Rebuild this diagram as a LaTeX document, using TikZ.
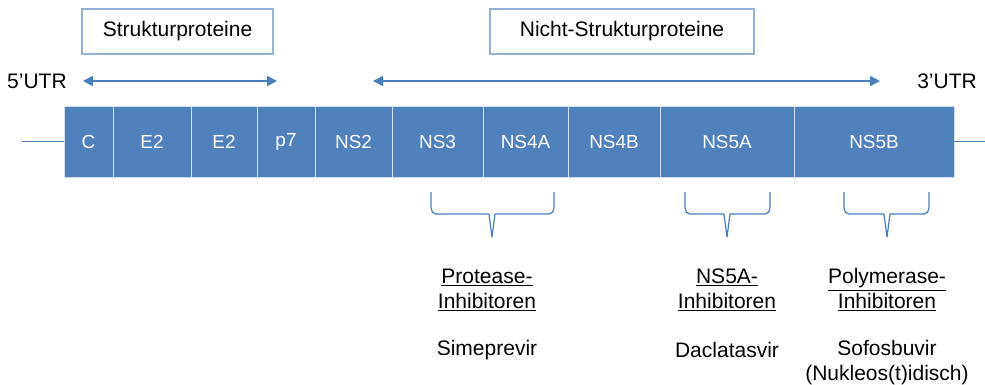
\documentclass[tikz,border=0pt]{standalone}
\usepackage{fontspec}
\setmainfont{Liberation Sans}
\usetikzlibrary{arrows.meta, positioning}
\definecolor{balken}{HTML}{4F81BD}
\definecolor{linie}{HTML}{4A7EBB}
\definecolor{rahmen}{HTML}{95B3D7}

\begin{document}
\begin{tikzpicture}[x=0.75pt, y=-0.75pt, node distance=0pt,
    seg/.style={fill=balken, draw=white!75!balken, line width=0.6pt, outer sep=0pt,
      inner sep=0pt, minimum height=53.25pt, text=white, font=\fontsize{14.2}{16}\selectfont},
    titel/.style={draw=rahmen, line width=0.9pt, minimum height=33.75pt,
      font=\fontsize{15.75}{18.75}\selectfont},
    txt/.style={font=\fontsize{15.75}{18.75}\selectfont, align=center},
    pfeil/.style={draw=linie, line width=1.1pt,
      {Triangle[width=7.5pt,length=7.5pt]}-{Triangle[width=7.5pt,length=7.5pt]}},
    klammer/.style={draw=linie, line width=0.9pt, line join=round}]
    \useasboundingbox (0,0) rectangle (985,385);

    % Genom als Balken
    \node[seg, minimum width=36.75pt, anchor=north west] (c) at (64,106) {C};
    \node[seg, minimum width=58.5pt, right=of c] (e2a) {E2};
    \node[seg, minimum width=49.5pt, right=of e2a] (e2b) {E2};
    \node[seg, minimum width=43.5pt, right=of e2b] (p7) {p7};
    \node[seg, minimum width=57.75pt, right=of p7] (ns2) {NS2};
    \node[seg, minimum width=68.25pt, right=of ns2] (ns3) {NS3};
    \node[seg, minimum width=63.75pt, right=of ns3] (ns4a) {NS4A};
    \node[seg, minimum width=69pt, right=of ns4a] (ns4b) {NS4B};
    \node[seg, minimum width=100.5pt, right=of ns4b] (ns5a) {NS5A};
    \node[seg, minimum width=120pt, right=of ns5a] (ns5b) {NS5B};

    \coordinate (utr5) at (22,141.5);
    \coordinate (utr3) at (985,141.5);
    \draw[linie, line width=0.8pt] (utr5) -- (c.west);
    \draw[linie, line width=0.8pt] (ns5b.east) -- (utr3);

    \node[txt] (l5) at (37,81) {5\textquoteright UTR};
    \node[txt] (l3) at (947,81) {3\textquoteright UTR};

    % Bereiche oben
    \node[titel, minimum width=143.25pt] (struk) at (177.5,31.5) {Strukturproteine};
    \node[titel, minimum width=198pt] (nstruk) at (622,31.5) {Nicht-Strukturproteine};

    \coordinate (sa) at (83,81);
    \coordinate (sb) at (277,81);
    \coordinate (na) at (373,81);
    \coordinate (nb) at (880,81);
    \draw[pfeil] (sa) -- (sb);
    \draw[pfeil] (na) -- (nb);

    % Klammern
    \foreach \l/\m/\r in {431/492/554, 685/727/770, 844/887/929}{
      \draw[klammer] (\l,192) -- (\l,208) to[out=-90,in=180] (\l+5,214) -- (\m-3,214)
        -- (\m,237) -- (\m+3,214) -- (\r-5,214) to[out=0,in=-90] (\r,208) -- (\r,192);
    }

    % Inhibitoren
    \node[txt] (prot) at (487,290) {\underline{Protease-}\\\underline{Inhibitoren}};
    \node[txt] (ns5ai) at (727,290) {\underline{NS5A-}\\\underline{Inhibitoren}};
    \node[txt] (pol) at (887,290) {\underline{Polymerase-}\\\underline{Inhibitoren}};
    \node[txt] (sim) at (487,350) {Simeprevir};
    \node[txt] (dac) at (727,350) {Daclatasvir};
    \node[txt] (sof) at (887,363) {Sofosbuvir\\(Nukleos(t)idisch)};
\end{tikzpicture}
\end{document}
